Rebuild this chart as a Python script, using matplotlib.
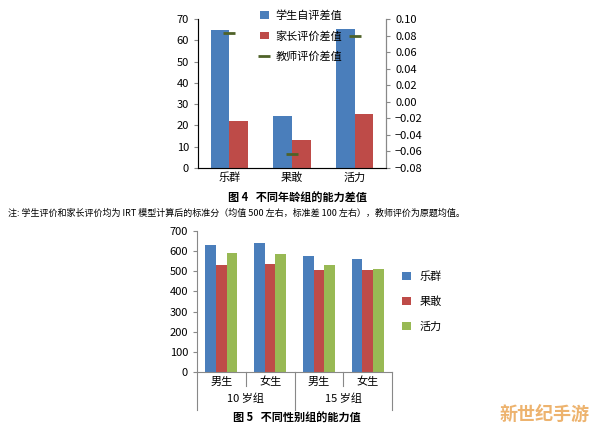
import matplotlib
matplotlib.use("Agg")
import matplotlib.pyplot as plt
import numpy as np

plt.rcParams['font.family'] = ['Noto Sans CJK SC', 'DejaVu Sans']

cats4 = ['乐群', '果敢', '活力']
student_diff = [65.0, 24.3, 65.3]
parent_diff = [22.0, 13.0, 25.3]
teacher_diff = [0.083, -0.063, 0.079]

gender_labels = ['男生', '女生', '男生', '女生']
age_groups = ['10 岁组', '15 岁组']
s_lequn = [630, 640, 575, 563]
s_guogan = [530, 535, 508, 508]
s_huoli = [592, 585, 533, 513]

BLUE = '#4a7ebb'
RED = '#be4b48'
GREEN = '#98b954'
W, H = 594, 433
fig = plt.figure(figsize=(W/100, H/100), dpi=100)

def rect(l, t, r, b):
    return [l/W, 1-b/H, (r-l)/W, (b-t)/H]

# ---- Figure 4 ----
ax = fig.add_axes(rect(198, 19, 386, 168))
x = np.arange(len(cats4))
bw = 0.3
b1 = ax.bar(x-bw/2, student_diff, bw, color=BLUE, label='学生自评差值')
b2 = ax.bar(x+bw/2, parent_diff, bw, color=RED, label='家长评价差值')
ax.set_ylim(0, 70)
ax.set_yticks(range(0, 71, 10))
ax.set_xlim(-0.5, 2.5)
ax.set_xticks(x)
ax.set_xticklabels(cats4, fontsize=8)
ax.tick_params(axis='y', labelsize=8, length=3, color='#888888')
ax.tick_params(axis='x', length=0)
for s in ['top']:
    ax.spines[s].set_visible(False)
for s in ['left', 'bottom', 'right']:
    ax.spines[s].set_color('#888888')
ax2 = ax.twinx()
l1, = ax2.plot(x, teacher_diff, ls='none', marker='_', ms=8, mew=2, color='#4f6228', label='教师评价差值')
ax2.set_ylim(-0.08, 0.10)
ax2.set_yticks(np.arange(-0.08, 0.101, 0.02))
ax2.set_yticklabels([f'{v:.2f}'.replace('-', '−') for v in np.arange(-0.08, 0.101, 0.02)])
ax2.tick_params(axis='y', labelsize=8, length=3, color='#888888')
ax2.spines['top'].set_visible(False)
ax2.spines['right'].set_color('#888888')
fig.legend(handles=[b1, b2, l1], loc='upper left', bbox_to_anchor=(250/W, 1.0),
           frameon=False, fontsize=8, handlelength=0.8, labelspacing=0.9, handletextpad=0.6)
fig.text(297/W, 1-198/H, '图 4   不同年龄组的能力差值', ha='center', va='center', fontsize=8, fontweight='bold')
fig.text(8/W, 1-213/H, '注: 学生评价和家长评价均为 IRT 模型计算后的标准分（均值 500 左右，标准差 100 左右），教师评价为原题均值。',
         ha='left', va='center', fontsize=6.5)

# ---- Figure 5 ----
bx = fig.add_axes(rect(197, 231, 392, 372))
xs = np.arange(4)
w = 0.22
r1 = bx.bar(xs-w, s_lequn, w, color=BLUE, label='乐群')
r2 = bx.bar(xs, s_guogan, w, color=RED, label='果敢')
r3 = bx.bar(xs+w, s_huoli, w, color=GREEN, label='活力')
bx.set_ylim(0, 700)
bx.set_yticks(range(0, 701, 100))
bx.set_xlim(-0.5, 3.5)
bx.set_xticks([])
bx.tick_params(axis='y', labelsize=8, length=3, color='#888888')
for s in ['top', 'right']:
    bx.spines[s].set_visible(False)
for s in ['left', 'bottom']:
    bx.spines[s].set_color('#888888')
tr = bx.get_xaxis_transform()
for i, g in enumerate(gender_labels):
    bx.text(i, -0.07, g, transform=tr, ha='center', va='center', fontsize=8)
for i, a in enumerate(age_groups):
    bx.text(2*i+0.5, -0.19, a, transform=tr, ha='center', va='center', fontsize=8)
for xv, ln in [(-0.5, 0.27), (0.5, 0.1), (1.5, 0.27), (2.5, 0.1), (3.5, 0.27)]:
    bx.plot([xv, xv], [0, -ln], transform=tr, color='#888888', lw=0.8, clip_on=False)
bx.legend(handles=[r1, r2, r3], loc='center left', bbox_to_anchor=(1.0, 0.5), frameon=False,
          fontsize=8, handlelength=0.8, handleheight=0.8, labelspacing=1.3)
fig.text(297/W, 1-418/H, '图 5   不同性别组的能力值', ha='center', va='center', fontsize=8, fontweight='bold')
fig.text(590/W, 1-414/H, '新世纪手游', ha='right', va='center', fontsize=13, color='#e9a04a', alpha=0.8, fontweight='bold')

fig.savefig('out.png', dpi=100)
